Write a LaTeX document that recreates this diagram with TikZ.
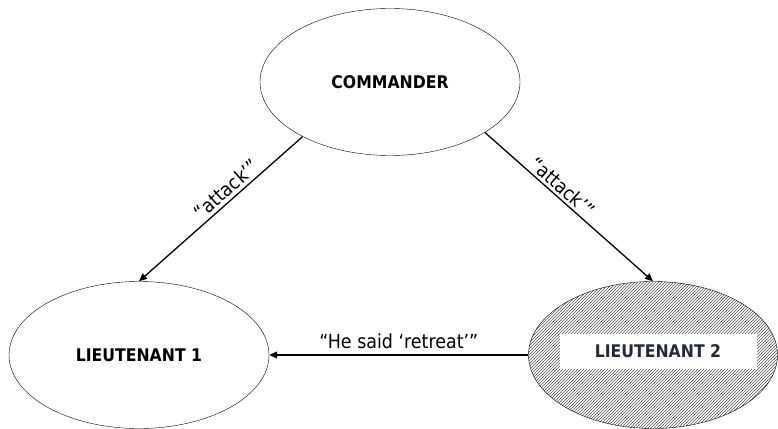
\documentclass[tikz,border=0pt]{standalone}
\usepackage{fontspec}
\setmainfont{DejaVu Sans Condensed}
\usetikzlibrary{arrows.meta,shapes.geometric,patterns}
\definecolor{tagink}{HTML}{232A36}
% fine diagonal hatching, tile of exactly 3bp
\pgfdeclarepatternformonly{fine hatch}{\pgfpoint{-1bp}{-1bp}}{\pgfpoint{4bp}{4bp}}{\pgfpoint{3bp}{3bp}}{%
  \pgfsetlinewidth{0.45bp}
  \pgfpathmoveto{\pgfpoint{-0.1bp}{-0.1bp}}
  \pgfpathlineto{\pgfpoint{3.1bp}{3.1bp}}
  \pgfusepath{stroke}}

\begin{document}
\begin{tikzpicture}[x=1bp, y=1bp, every node/.style={font=\fontsize{19}{22}\selectfont}, general/.style={ellipse, draw, inner sep=0pt, minimum width=260bp, minimum height=147bp, font=\fontsize{17.5}{20}\selectfont\bfseries}, tag/.style={fill=white, inner sep=0pt, minimum width=197bp, minimum height=35bp, font=\fontsize{17.5}{20}\selectfont\bfseries, text=tagink}, arrow/.style={-{Triangle[length=8bp, width=7bp]}, line width=1.3bp}, msg/.style={font=\fontsize{19.5}{22}\selectfont, inner sep=3bp}]
\useasboundingbox (0,0) rectangle (778,428);
\node[general] (cmd) at (390,346) {COMMANDER};
\node[general] (lt1) at (139,73) {LIEUTENANT 1};
\node[general, minimum width=249bp, pattern=fine hatch, pattern color=black!65] (lt2) at (653,73) {};
\node[tag] (lt2name) at (658,77) {LIEUTENANT 2};
\draw[arrow] (cmd.212) -- node[msg, sloped, above, pos=0.42] {“attack’”} (lt1.north);
\draw[arrow] (cmd.332) -- node[msg, sloped, above, pos=0.42] {“attack’”} (lt2.north);
\draw[arrow] (lt2.west) -- node[msg, above, yshift=3bp] {“He said ‘retreat’”} (lt1.east);
\end{tikzpicture}
\end{document}
